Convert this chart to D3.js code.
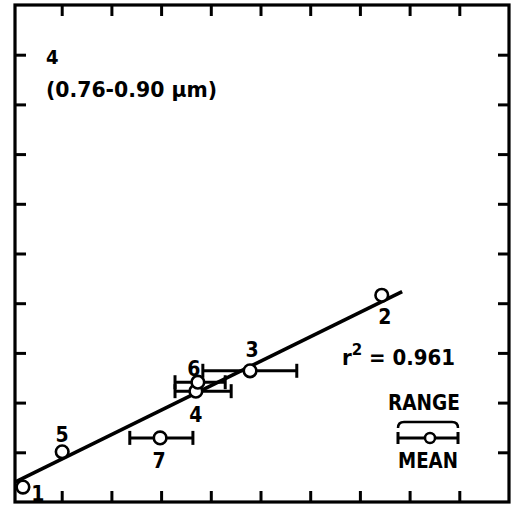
<!DOCTYPE html>
<html><head><meta charset="utf-8">
<script src="https://cdn.jsdelivr.net/npm/d3@7"></script>
<style>
html,body{margin:0;padding:0;background:#fff;}
svg{display:block;}
text{font-family:"DejaVu Sans Condensed","Liberation Sans Narrow","DejaVu Sans",sans-serif;font-weight:bold;fill:#000;}
</style></head>
<body>
<svg id="chart" width="523" height="505"></svg>
<script>
// ---- data ----
const pointIds   = ["1", "5", "7", "4", "6", "3", "2"];
const xMeans     = [0.22, 1.01, 2.98, 3.70, 3.74, 4.79, 7.44];
const yValues    = [0.30, 1.01, 1.29, 2.23, 2.41, 2.64, 4.16];
const xRangeLow  = [null, null, 2.37, 3.28, 3.28, 3.84, null];
const xRangeHigh = [null, null, 3.64, 4.41, 4.29, 5.73, null];
const fitIntercept = 0.37;
const fitSlope     = 0.492;
const fitXExtent   = [0.06, 7.85];
const xTicks = [1, 2, 3, 4, 5, 6, 7, 8, 9];
const yTicks = [1, 2, 3, 4, 5, 6, 7, 8, 9];
const bandTitle = "4";
const bandRange = "(0.76-0.90 \u03bcm)";
const r2Text = "0.961";

const points = pointIds.map((id, i) => ({id, x: xMeans[i], y: yValues[i], lo: xRangeLow[i], hi: xRangeHigh[i]}));

// ---- scales ----
const x = d3.scaleLinear().domain([0, 10]).range([12, 509]);
const y = d3.scaleLinear().domain([0, 10]).range([502, 5]);

const svg = d3.select("#chart");

// frame
const fl = x(0) + 3, fr = x(10), ft = y(10), fb = y(0);
svg.append("rect").attr("x", fl).attr("y", ft).attr("width", fr - fl).attr("height", fb - ft)
  .attr("fill", "none").attr("stroke", "#000").attr("stroke-width", 3.2);

// inward ticks via d3 axes
const tickLen = 11;
const axTop = d3.axisBottom(x).tickValues(xTicks).tickSize(tickLen).tickFormat("");
const axBot = d3.axisTop(x).tickValues(xTicks).tickSize(tickLen).tickFormat("");
const axLeft = d3.axisRight(y).tickValues(yTicks).tickSize(tickLen).tickFormat("");
const axRight = d3.axisLeft(y).tickValues(yTicks).tickSize(tickLen).tickFormat("");
function styleAxis(g){ g.select(".domain").remove(); g.selectAll("line").attr("stroke","#000").attr("stroke-width",3); }
svg.append("g").attr("transform", `translate(0,${ft})`).call(axTop).call(styleAxis);
svg.append("g").attr("transform", `translate(0,${fb})`).call(axBot).call(styleAxis);
svg.append("g").attr("transform", `translate(${fl},0)`).call(axLeft).call(styleAxis);
svg.append("g").attr("transform", `translate(${fr},0)`).call(axRight).call(styleAxis);

// regression line
const line = d3.line().x(d => x(d)).y(d => y(fitIntercept + fitSlope * d));
svg.append("path").datum(fitXExtent).attr("d", line)
  .attr("fill", "none").attr("stroke", "#000").attr("stroke-width", 3.6);

// range bars
const capH = 7;
const eb = svg.append("g").attr("stroke", "#000").attr("stroke-width", 3);
points.filter(d => d.lo != null).forEach(d => {
  eb.append("line").attr("x1", x(d.lo)).attr("x2", x(d.hi)).attr("y1", y(d.y)).attr("y2", y(d.y));
  eb.append("line").attr("x1", x(d.lo)).attr("x2", x(d.lo)).attr("y1", y(d.y) - capH).attr("y2", y(d.y) + capH);
  eb.append("line").attr("x1", x(d.hi)).attr("x2", x(d.hi)).attr("y1", y(d.y) - capH).attr("y2", y(d.y) + capH);
});

// mean circles
svg.append("g").selectAll("circle").data(points).join("circle")
  .attr("cx", d => x(d.x)).attr("cy", d => y(d.y)).attr("r", 6.3)
  .attr("fill", "#fff").attr("stroke", "#000").attr("stroke-width", 2.6);

// point labels (layout offsets, px)
const labelOffset = {"1": [15, 14], "5": [0, -10], "7": [-1, 30], "4": [0, 31], "6": [-4, -6], "3": [2, -14], "2": [3, 29]};
svg.append("g").selectAll("text").data(points).join("text")
  .attr("x", d => x(d.x) + labelOffset[d.id][0]).attr("y", d => y(d.y) + labelOffset[d.id][1])
  .attr("text-anchor", "middle").attr("font-size", 21).text(d => d.id);

// title
svg.append("text").attr("x", 46).attr("y", 64).attr("font-size", 20).text(bandTitle);
svg.append("text").attr("x", 46).attr("y", 97).attr("font-size", 21)
  .attr("textLength", 171).attr("lengthAdjust", "spacingAndGlyphs").style("font-weight", "600").text(bandRange);

// r^2
const rt = svg.append("text").attr("x", 342).attr("y", 365).attr("font-size", 21)
  .attr("textLength", 113).attr("lengthAdjust", "spacingAndGlyphs");
rt.append("tspan").text("r");
rt.append("tspan").attr("dy", -10).attr("font-size", 16).text("2");
rt.append("tspan").attr("dy", 10).text(" = " + r2Text);

// legend
svg.append("text").attr("x", 424).attr("y", 410).attr("text-anchor", "middle").attr("font-size", 21)
  .attr("textLength", 72).attr("lengthAdjust", "spacingAndGlyphs").text("RANGE");
svg.append("path").attr("d", "M398,428 Q398,422 404,422 L452,422 Q458,422 458,428")
  .attr("fill", "none").attr("stroke", "#000").attr("stroke-width", 2.5);
const lg = svg.append("g").attr("stroke", "#000").attr("stroke-width", 3);
lg.append("line").attr("x1", 398).attr("x2", 458).attr("y1", 438).attr("y2", 438);
lg.append("line").attr("x1", 398).attr("x2", 398).attr("y1", 432).attr("y2", 444);
lg.append("line").attr("x1", 458).attr("x2", 458).attr("y1", 432).attr("y2", 444);
svg.append("circle").attr("cx", 430).attr("cy", 438).attr("r", 5)
  .attr("fill", "#fff").attr("stroke", "#000").attr("stroke-width", 2.5);
svg.append("text").attr("x", 428).attr("y", 468).attr("text-anchor", "middle").attr("font-size", 21)
  .attr("textLength", 60).attr("lengthAdjust", "spacingAndGlyphs").text("MEAN");
</script>
</body></html>
